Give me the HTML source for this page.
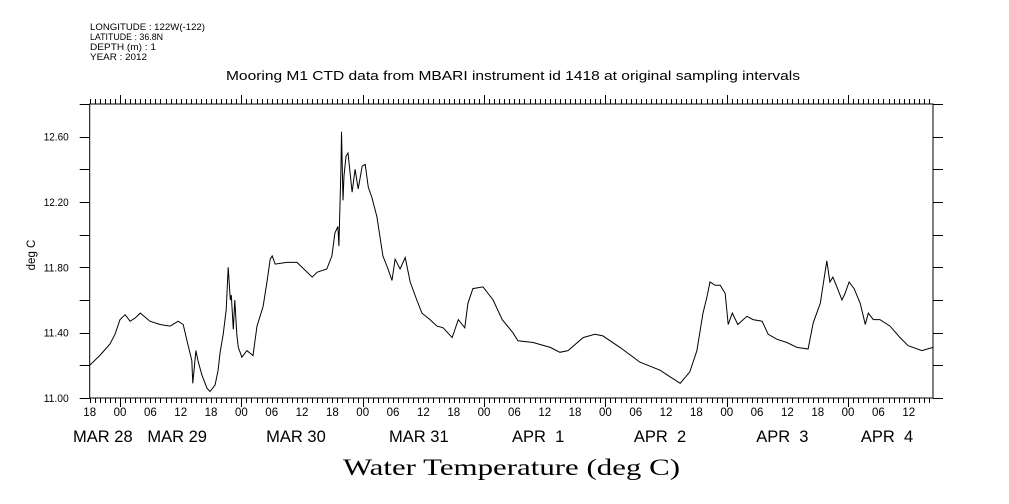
<!DOCTYPE html>
<html><head><meta charset="utf-8"><style>
html,body{margin:0;padding:0;background:#fff;}
svg{display:block;font-family:"Liberation Sans",sans-serif;}
</style></head><body>
<svg id="chart" width="1009" height="504" viewBox="0 0 1009 504" xmlns="http://www.w3.org/2000/svg">
<g font-size="9" fill="#000">
<text x="90" y="30" textLength="115" lengthAdjust="spacingAndGlyphs">LONGITUDE : 122W(-122)</text>
<text x="90" y="40" textLength="73" lengthAdjust="spacingAndGlyphs">LATITUDE : 36.8N</text>
<text x="90" y="50" textLength="66" lengthAdjust="spacingAndGlyphs">DEPTH (m) : 1</text>
<text x="90" y="60" textLength="57" lengthAdjust="spacingAndGlyphs">YEAR : 2012</text>
</g>
<text x="226" y="80" font-size="12.5" textLength="574" lengthAdjust="spacingAndGlyphs">Mooring M1 CTD data from MBARI instrument id 1418 at original sampling intervals</text>
<text transform="translate(35,255) rotate(-90)" font-size="11.5" text-anchor="middle">deg C</text>
<text x="343" y="475" font-family="Liberation Serif,serif" font-size="23" textLength="337" lengthAdjust="spacingAndGlyphs">Water Temperature (deg C)</text>
<g id="axes"></g>
<path id="series" fill="none" stroke="#000" stroke-width="1"/>
</svg>
<script>
// hours since MAR 27 18:00
const hours = [0,2,4,5,6,7,8,9,10,11.9,13.9,15.9,17.5,18.5,19.4,20.2,20.4,21,21.4,22.2,23.2,23.8,24.8,25.4,25.8,26.4,27,27.4,27.8,28,28.4,28.7,29.1,29.4,30.1,31.1,32.3,33.1,34.3,35.1,35.7,36.1,36.7,39,41,44,45,46.9,47.9,48.5,49.1,49.3,49.7,49.8,50.1,50.3,50.7,51.1,51.9,52.5,53.1,53.9,54.5,55.1,55.8,56.8,58,59,59.8,60.4,61.4,62.4,63.4,64.7,65.7,67.3,68.7,69.9,71.7,72.9,74.2,74.8,75.8,77.8,78.8,79.8,81.6,83.7,84.7,87.7,91.1,93,94.6,97.6,99.9,101.5,104.9,108.8,112.8,114.8,116.8,118.7,120.1,121.3,122.1,122.7,123.7,124.7,125.7,126.3,127.1,128.2,130,131.2,133,134.2,135.9,137.9,139.9,142.1,143.1,144.5,145.8,146.4,147,147.8,148.8,149.4,150.2,151.2,152.4,153.4,154,155,156.3,158.3,160.3,161.9,164.6,166.8];
const temps = [11.20,11.26,11.33,11.39,11.48,11.51,11.47,11.49,11.52,11.47,11.45,11.44,11.47,11.45,11.33,11.23,11.09,11.29,11.23,11.14,11.06,11.04,11.08,11.17,11.28,11.39,11.54,11.80,11.60,11.63,11.42,11.60,11.39,11.31,11.25,11.29,11.26,11.44,11.56,11.72,11.85,11.87,11.82,11.83,11.83,11.74,11.77,11.79,11.87,12.01,12.05,11.93,12.42,12.63,12.21,12.36,12.48,12.50,12.26,12.40,12.28,12.42,12.43,12.29,12.23,12.11,11.87,11.79,11.72,11.85,11.79,11.86,11.71,11.60,11.52,11.48,11.44,11.43,11.37,11.48,11.43,11.58,11.67,11.68,11.64,11.60,11.48,11.40,11.35,11.34,11.31,11.28,11.29,11.37,11.39,11.38,11.31,11.22,11.17,11.13,11.09,11.16,11.29,11.52,11.62,11.71,11.69,11.69,11.64,11.45,11.52,11.45,11.50,11.48,11.47,11.39,11.36,11.34,11.31,11.30,11.46,11.58,11.84,11.71,11.74,11.68,11.60,11.64,11.71,11.67,11.58,11.45,11.52,11.48,11.48,11.44,11.37,11.32,11.29,11.31];
const yTicks = [11.0,11.2,11.4,11.6,11.8,12.0,12.2,12.4,12.6,12.8];
const yLabels = ["11.00","11.40","11.80","12.20","12.60"];
const hourLabels = ["18","00","06","12"];
const dayLabels = ["MAR 28","MAR 29","MAR 30","MAR 31","APR  1","APR  2","APR  3","APR  4"];
const dayLabelHours = [2.6,17.3,40.8,65.1,88.7,112.8,137,157.7];

const L=89.7,R=933,T=104,B=398,H0=0,H1=166.8,Y0=11.0,Y1=12.8;
const xs=h=>L+(h-H0)*(R-L)/(H1-H0);
const ys=v=>B-(v-Y0)*(B-T)/(Y1-Y0);
const NS="http://www.w3.org/2000/svg";
const ax=document.getElementById('axes');
function mk(tag,attrs,parent){const e=document.createElementNS(NS,tag);for(const k in attrs)e.setAttribute(k,attrs[k]);(parent||ax).appendChild(e);return e;}
let d=`M${L},${T}H${R}V${B}H${L}Z`;
for(const v of yTicks){const y=Math.round(ys(v))+0.5;d+=`M${L-10},${y}H${L}M${R},${y}H${R+10}`;}
for(let h=0;h<=H1;h++){const x=Math.round(xs(h))+0.5;const major=((h+18)%24===0);const len=major?9:5;d+=`M${x},${T}V${T-len}M${x},${B}V${B+len}`;}
const fr=mk('path',{d:d,fill:'none',stroke:'#000','stroke-width':1});


yLabels.forEach(s=>{const t=mk('text',{x:L-21,y:ys(parseFloat(s))+4,'font-size':11,'text-anchor':'end',textLength:25,lengthAdjust:'spacingAndGlyphs'});t.textContent=s;

});
for(let h=0;h<=H1;h+=6){const t=mk('text',{x:xs(h),y:416,'font-size':11.5,'text-anchor':'middle'});t.textContent=hourLabels[(h/6)%4];

}
dayLabels.forEach((s,i)=>{const t=mk('text',{x:xs(dayLabelHours[i]),y:442,'font-size':16.5,'text-anchor':'middle'});t.setAttribute('style','white-space:pre');t.textContent=s;

});
document.getElementById('series').setAttribute('d',hours.map((h,i)=>(i?'L':'M')+xs(h).toFixed(1)+','+ys(temps[i]).toFixed(1)).join(''));
</script>
</body></html>
